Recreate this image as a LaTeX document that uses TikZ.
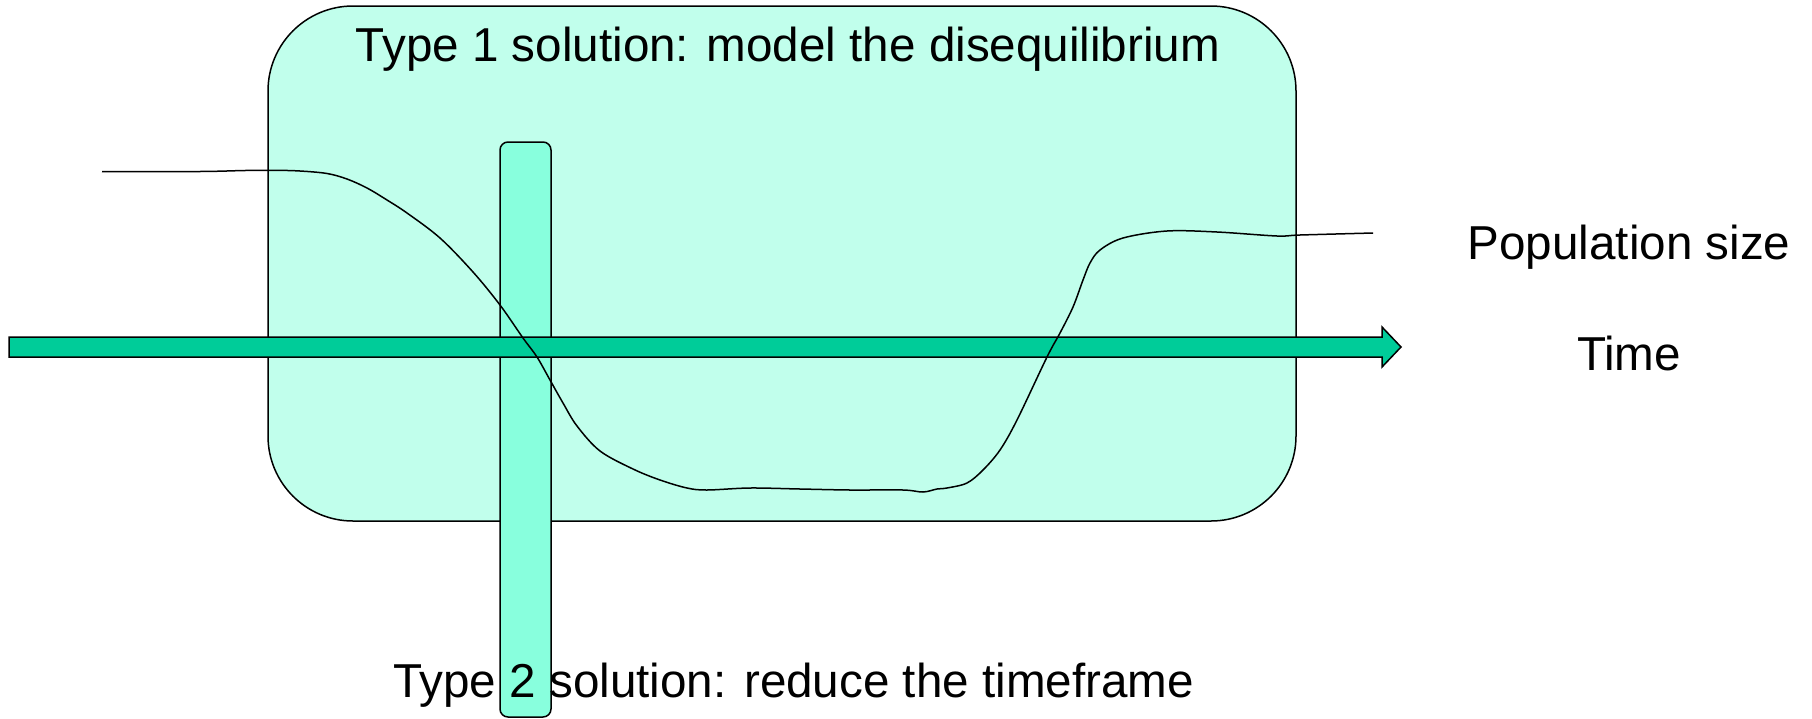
\documentclass[tikz,border=0pt]{standalone}
\usepackage{fontspec}
\setmainfont{Liberation Sans}
\begin{document}
\begin{tikzpicture}[x=1pt,y=-1pt,
  bigbox/.style={draw=black, line width=1.5pt, fill=bigfill, rounded corners=85pt, inner sep=0pt},
  slimbox/.style={draw=black, line width=1.5pt, fill=slimfill, rounded corners=8pt, inner sep=0pt},
  lbl/.style={inner sep=0pt, font=\fontsize{47.6}{57}\selectfont},
  timearrow/.style={draw=black, line width=1.5pt, fill=arrowfill, line join=miter},
  popcurve/.style={draw=black, line width=1.5pt}
]
\definecolor{bigfill}{RGB}{193,255,236}
\definecolor{slimfill}{RGB}{136,255,221}
\definecolor{arrowfill}{RGB}{0,204,153}
\useasboundingbox (0,0) rectangle (1812,718);
% big box
\node[bigbox, minimum width=1028pt, minimum height=515pt] (frame) at (782,263.5) {};
\node[lbl, anchor=base] (t1) at (788,61) {Type 1 solution: model the disequilibrium};
% slim box
\node[slimbox, minimum width=51pt, minimum height=575pt] (slim) at (525.5,429.5) {};
% arrow
\path[timearrow] (9,337) -- (1382,337) -- (1382,327) -- (1401,347) -- (1382,367) -- (1382,357) -- (9,357) -- cycle;
% curve
\draw[popcurve] plot[smooth, tension=0.55] coordinates {
 (102,171.5) (200,171.5) (245,170.5) (275,170.3) (300,171) (327,173.5)
 (347,179) (367,188) (387,200) (407,213)
 (440,238) (473,272) (500,305) (523,338) (537,357) (550,380) (563,403)
 (577,426) (600,451) (633,469) (660,480) (687,488) (707,490) (750,488)
 (800,489) (850,490) (903,490) (923,492) (937,489) (947,488) (967,483)
 (983,470) (1000,450) (1017,420) (1047,357) (1060,333) (1073,307)
 (1083,280) (1090,263) (1100,250) (1123,238) (1167,231) (1217,232)
 (1277,236) (1300,235) (1373,233)};
% labels
\node[lbl, anchor=base west] (t2) at (393,697) {Type 2 solution: reduce the timeframe};
\node[lbl, anchor=base] (pop) at (1629,259) {Population size};
\node[lbl, anchor=base] (time) at (1629,370) {Time};
\end{tikzpicture}
\end{document}
